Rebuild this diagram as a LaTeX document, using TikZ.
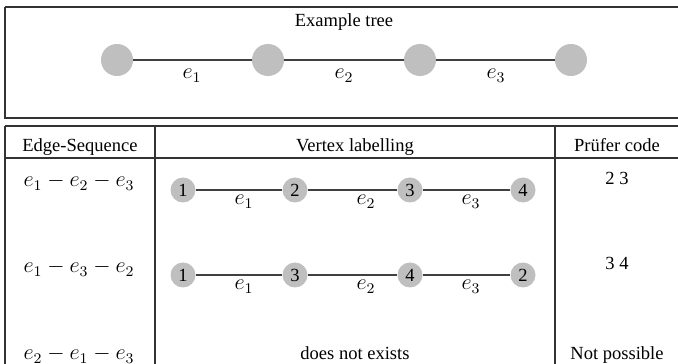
\documentclass[tikz,border=0pt]{standalone}
\usepackage{fontspec}
\setmainfont{Liberation Serif}
\begin{document}
\begin{tikzpicture}[x=0.54pt,y=-0.54pt,
  frame/.style={draw=black!80,line width=0.7pt},
  bigv/.style={circle,fill=black!25,minimum size=17.3pt,inner sep=0pt},
  numv/.style={circle,fill=black!25,minimum size=13.5pt,inner sep=0pt,font=\fontsize{10}{12}\selectfont},
  edge/.style={draw=black!75,line width=0.6pt},
  lab/.style={inner sep=0pt,anchor=base,font=\fontsize{11.5}{13}\selectfont},
  txt/.style={inner sep=0pt,anchor=base,font=\fontsize{10}{12}\selectfont},
  mtxt/.style={inner sep=0pt,anchor=base,font=\fontsize{11.5}{13}\selectfont}]
\useasboundingbox (0,0) rectangle (678,364);
% top box
\draw[frame] (5,7) -- (690,7) (5,7) -- (5,118) -- (690,118);
\node[txt] (title) at (344,27) {Example tree};
\node[bigv] (t1) at (117,60) {};
\node[bigv] (t2) at (268,60) {};
\node[bigv] (t3) at (420,60) {};
\node[bigv] (t4) at (571,60) {};
\draw[edge] (t1) -- (t2) (t2) -- (t3) (t3) -- (t4);
\node[lab] (te1) at (192,79) {$e_1$};
\node[lab] (te2) at (344,79) {$e_2$};
\node[lab] (te3) at (496,79) {$e_3$};
% table
\draw[frame] (5,126) -- (690,126) (5,158) -- (690,158);
\draw[frame] (5,126) -- (5,370) (155,126) -- (155,370) (555,126) -- (555,370);
\node[txt] (h1) at (80,152) {Edge-Sequence};
\node[txt] (h2) at (355,152) {Vertex labelling};
\node[txt] (h3) at (617,152) {Prüfer code};
% row 1
\node[mtxt] (s1) at (79,187) {$e_1-e_2-e_3$};
\node[numv] (a1) at (183,190) {1};
\node[numv] (a2) at (295,190) {2};
\node[numv] (a3) at (410,190) {3};
\node[numv] (a4) at (523,190) {4};
\draw[edge] (a1) -- (a2) (a2) -- (a3) (a3) -- (a4);
\node[lab] (ae1) at (244,205) {$e_1$};
\node[lab] (ae2) at (366,205) {$e_2$};
\node[lab] (ae3) at (471,205) {$e_3$};
\node[txt] (p1) at (617,185) {2 3};
% row 2
\node[mtxt] (s2) at (79,273) {$e_1-e_3-e_2$};
\node[numv] (b1) at (183,275) {1};
\node[numv] (b2) at (295,275) {3};
\node[numv] (b3) at (410,275) {4};
\node[numv] (b4) at (523,275) {2};
\draw[edge] (b1) -- (b2) (b2) -- (b3) (b3) -- (b4);
\node[lab] (be1) at (244,290) {$e_1$};
\node[lab] (be2) at (366,290) {$e_2$};
\node[lab] (be3) at (471,290) {$e_3$};
\node[txt] (p2) at (617,270) {3 4};
% row 3
\node[mtxt] (s3) at (79,360) {$e_2-e_1-e_3$};
\node[txt] (n3) at (355,360) {does not exists};
\node[txt] (p3) at (617,360) {Not possible};
\end{tikzpicture}
\end{document}
